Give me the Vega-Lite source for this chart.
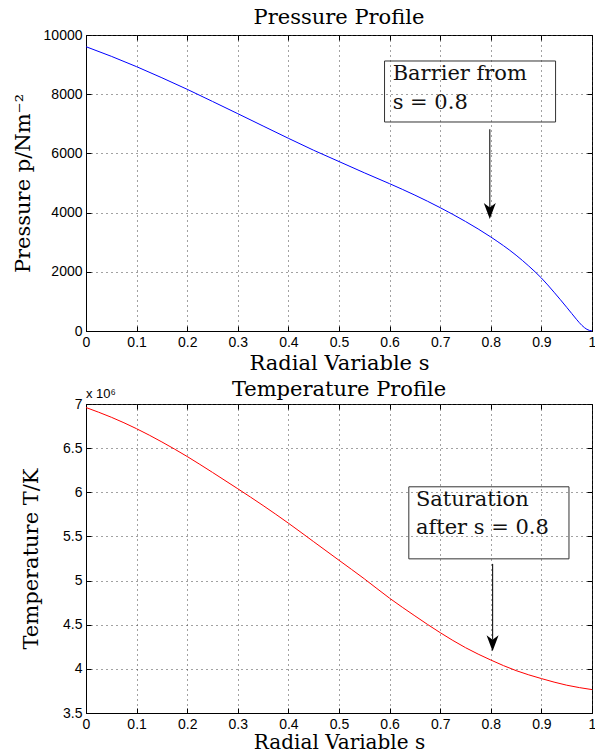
{
  "$schema": "https://vega.github.io/schema/vega-lite/v6.json",
  "padding": {"left": 11, "top": 6, "right": 0, "bottom": 0},
  "spacing": 73,
  "bounds": "flush",
  "config": {
    "view": {"stroke": "black", "strokeWidth": 1},
    "title": {"font": "DejaVu Serif", "fontSize": 21, "fontWeight": "normal", "color": "black"},
    "axis": {
      "labelFont": "Liberation Sans", "labelFontSize": 14, "labelColor": "black",
      "titleFont": "DejaVu Serif", "titleFontSize": 21, "titleFontWeight": "normal", "titleColor": "black",
      "domainColor": "black", "domainWidth": 1, "tickColor": "black", "tickSize": -5, "labelPadding": 9,
      "gridColor": "#444", "gridDash": [1, 4], "gridOpacity": 1, "gridWidth": 1, "labelFlush": false
    }
  },
  "datasets": {
    "pressure": [
      {"s": 0, "p": 9605}, {"s": 0.05, "p": 9280}, {"s": 0.1, "p": 8930}, {"s": 0.15, "p": 8555},
      {"s": 0.2, "p": 8165}, {"s": 0.25, "p": 7755}, {"s": 0.3, "p": 7342}, {"s": 0.35, "p": 6925},
      {"s": 0.4, "p": 6510}, {"s": 0.45, "p": 6105}, {"s": 0.5, "p": 5725}, {"s": 0.55, "p": 5345},
      {"s": 0.6, "p": 4977}, {"s": 0.65, "p": 4590}, {"s": 0.7, "p": 4166}, {"s": 0.75, "p": 3700},
      {"s": 0.8, "p": 3176}, {"s": 0.85, "p": 2560}, {"s": 0.875, "p": 2195}, {"s": 0.9, "p": 1790},
      {"s": 0.925, "p": 1310}, {"s": 0.95, "p": 800}, {"s": 0.96, "p": 590}, {"s": 0.97, "p": 380},
      {"s": 0.98, "p": 190}, {"s": 0.99, "p": 55}, {"s": 1.0, "p": 0}
    ],
    "temperature": [
      {"s": 0, "T": 6.96}, {"s": 0.05, "T": 6.85}, {"s": 0.1, "T": 6.72}, {"s": 0.15, "T": 6.57},
      {"s": 0.2, "T": 6.405}, {"s": 0.25, "T": 6.225}, {"s": 0.3, "T": 6.04}, {"s": 0.35, "T": 5.85},
      {"s": 0.4, "T": 5.65}, {"s": 0.45, "T": 5.44}, {"s": 0.5, "T": 5.23}, {"s": 0.55, "T": 5.02},
      {"s": 0.6, "T": 4.80}, {"s": 0.65, "T": 4.60}, {"s": 0.7, "T": 4.41}, {"s": 0.75, "T": 4.24},
      {"s": 0.8, "T": 4.10}, {"s": 0.85, "T": 3.98}, {"s": 0.9, "T": 3.89}, {"s": 0.95, "T": 3.815},
      {"s": 1.0, "T": 3.765}
    ]
  },
  "vconcat": [
    {
      "width": 506, "height": 296,
      "title": {"text": "Pressure Profile", "offset": 0},
      "layer": [
        {
          "data": {"name": "pressure"},
          "mark": {"type": "line", "color": "#0000ff", "strokeWidth": 1, "interpolate": "monotone"},
          "encoding": {
            "x": {"field": "s", "type": "quantitative", "scale": {"domain": [0, 1], "nice": false},
              "axis": {"values": [0, 0.1, 0.2, 0.3, 0.4, 0.5, 0.6, 0.7, 0.8, 0.9, 1], "format": "~g", "title": "Radial Variable s", "grid": true, "titlePadding": 3}},
            "y": {"field": "p", "type": "quantitative", "scale": {"domain": [0, 10000], "nice": false},
              "axis": {"values": [0, 2000, 4000, 6000, 8000, 10000], "format": "d", "title": "Pressure p/Nm⁻²", "grid": true, "titlePadding": 10}}
          }
        },
        {
          "data": {"name": "pressure"},
          "mark": {"type": "line", "opacity": 0},
          "encoding": {
            "x": {"field": "s", "type": "quantitative", "scale": {"domain": [0, 1], "nice": false},
              "axis": {"orient": "top", "values": [0, 0.1, 0.2, 0.3, 0.4, 0.5, 0.6, 0.7, 0.8, 0.9, 1], "labels": false, "title": null, "grid": false, "domain": false}},
            "y": {"field": "p", "type": "quantitative", "scale": {"domain": [0, 10000], "nice": false},
              "axis": {"orient": "right", "values": [0, 2000, 4000, 6000, 8000, 10000], "labels": false, "title": null, "grid": false, "domain": false}}
          }
        },
        {
          "data": {"values": [{"s0": 0.59, "s1": 0.928, "p0": 9122, "p1": 7061}]},
          "mark": {"type": "rect", "fill": null, "fillOpacity": 0, "stroke": "#333", "strokeWidth": 1},
          "encoding": {
            "x": {"field": "s0", "type": "quantitative", "scale": {"domain": [0, 1], "nice": false}, "axis": null},
            "x2": {"field": "s1"},
            "y": {"field": "p0", "type": "quantitative", "scale": {"domain": [0, 10000], "nice": false}, "axis": null},
            "y2": {"field": "p1"}
          }
        },
        {
          "data": {"values": [{"s": 0.606, "p": 8480, "t": "Barrier from"}, {"s": 0.606, "p": 7490, "t": "s = 0.8"}]},
          "mark": {"type": "text", "align": "left", "baseline": "alphabetic", "font": "DejaVu Serif", "fontSize": 21, "color": "#111"},
          "encoding": {
            "x": {"field": "s", "type": "quantitative", "scale": {"domain": [0, 1], "nice": false}, "axis": null},
            "y": {"field": "p", "type": "quantitative", "scale": {"domain": [0, 10000], "nice": false}, "axis": null},
            "text": {"field": "t"}
          }
        },
        {
          "data": {"values": [{"s": 0.798, "a": 6814, "b": 4100}]},
          "mark": {"type": "rule", "color": "#222", "strokeWidth": 1.2},
          "encoding": {
            "x": {"field": "s", "type": "quantitative", "scale": {"domain": [0, 1], "nice": false}, "axis": null},
            "y": {"field": "a", "type": "quantitative", "scale": {"domain": [0, 10000], "nice": false}, "axis": null},
            "y2": {"field": "b"}
          }
        },
        {
          "data": {"values": [{"s": 0.798, "p": 4054}]},
          "mark": {"type": "point", "shape": "M0,1L-0.75,-1L0,-0.45L0.75,-1Z", "filled": true, "color": "black", "opacity": 1, "size": 256},
          "encoding": {
            "x": {"field": "s", "type": "quantitative", "scale": {"domain": [0, 1], "nice": false}, "axis": null},
            "y": {"field": "p", "type": "quantitative", "scale": {"domain": [0, 10000], "nice": false}, "axis": null}
          }
        }
      ],
      "resolve": {"axis": {"x": "independent", "y": "independent"}}
    },
    {
      "width": 506, "height": 309,
      "title": {"text": "Temperature Profile", "offset": -12},
      "layer": [
        {
          "data": {"name": "temperature"},
          "mark": {"type": "line", "color": "#ff0000", "strokeWidth": 1, "interpolate": "monotone"},
          "encoding": {
            "x": {"field": "s", "type": "quantitative", "scale": {"domain": [0, 1], "nice": false},
              "axis": {"values": [0, 0.1, 0.2, 0.3, 0.4, 0.5, 0.6, 0.7, 0.8, 0.9, 1], "format": "~g", "title": "Radial Variable s", "grid": true, "titlePadding": 1, "titleFontSize": 20}},
            "y": {"field": "T", "type": "quantitative", "scale": {"domain": [3.5, 7], "nice": false},
              "axis": {"values": [3.5, 4, 4.5, 5, 5.5, 6, 6.5, 7], "format": "~g", "title": "Temperature T/K", "grid": true, "titlePadding": 21}}
          }
        },
        {
          "data": {"name": "temperature"},
          "mark": {"type": "line", "opacity": 0},
          "encoding": {
            "x": {"field": "s", "type": "quantitative", "scale": {"domain": [0, 1], "nice": false},
              "axis": {"orient": "top", "values": [0, 0.1, 0.2, 0.3, 0.4, 0.5, 0.6, 0.7, 0.8, 0.9, 1], "labels": false, "title": null, "grid": false, "domain": false}},
            "y": {"field": "T", "type": "quantitative", "scale": {"domain": [3.5, 7], "nice": false},
              "axis": {"orient": "right", "values": [3.5, 4, 4.5, 5, 5.5, 6, 6.5, 7], "labels": false, "title": null, "grid": false, "domain": false}}
          }
        },
        {
          "data": {"values": [{"s": 0, "T": 7, "t": "x 10⁶"}]},
          "mark": {"type": "text", "align": "left", "baseline": "alphabetic", "dy": -6, "font": "Liberation Sans", "fontSize": 13, "color": "black"},
          "encoding": {
            "x": {"field": "s", "type": "quantitative", "scale": {"domain": [0, 1], "nice": false}, "axis": null},
            "y": {"field": "T", "type": "quantitative", "scale": {"domain": [3.5, 7], "nice": false}, "axis": null},
            "text": {"field": "t"}
          }
        },
        {
          "data": {"values": [{"s0": 0.638, "s1": 0.9545, "T0": 6.062, "T1": 5.246}]},
          "mark": {"type": "rect", "fill": null, "fillOpacity": 0, "stroke": "#333", "strokeWidth": 1},
          "encoding": {
            "x": {"field": "s0", "type": "quantitative", "scale": {"domain": [0, 1], "nice": false}, "axis": null},
            "x2": {"field": "s1"},
            "y": {"field": "T0", "type": "quantitative", "scale": {"domain": [3.5, 7], "nice": false}, "axis": null},
            "y2": {"field": "T1"}
          }
        },
        {
          "data": {"values": [{"s": 0.652, "T": 5.84, "t": "Saturation"}, {"s": 0.652, "T": 5.525, "t": "after s = 0.8"}]},
          "mark": {"type": "text", "align": "left", "baseline": "alphabetic", "font": "DejaVu Serif", "fontSize": 21, "color": "#111"},
          "encoding": {
            "x": {"field": "s", "type": "quantitative", "scale": {"domain": [0, 1], "nice": false}, "axis": null},
            "y": {"field": "T", "type": "quantitative", "scale": {"domain": [3.5, 7], "nice": false}, "axis": null},
            "text": {"field": "t"}
          }
        },
        {
          "data": {"values": [{"s": 0.8035, "a": 5.189, "b": 4.33}]},
          "mark": {"type": "rule", "color": "#222", "strokeWidth": 1.2},
          "encoding": {
            "x": {"field": "s", "type": "quantitative", "scale": {"domain": [0, 1], "nice": false}, "axis": null},
            "y": {"field": "a", "type": "quantitative", "scale": {"domain": [3.5, 7], "nice": false}, "axis": null},
            "y2": {"field": "b"}
          }
        },
        {
          "data": {"values": [{"s": 0.8035, "T": 4.29}]},
          "mark": {"type": "point", "shape": "M0,1L-0.75,-1L0,-0.45L0.75,-1Z", "filled": true, "color": "black", "opacity": 1, "size": 256},
          "encoding": {
            "x": {"field": "s", "type": "quantitative", "scale": {"domain": [0, 1], "nice": false}, "axis": null},
            "y": {"field": "T", "type": "quantitative", "scale": {"domain": [3.5, 7], "nice": false}, "axis": null}
          }
        }
      ],
      "resolve": {"axis": {"x": "independent", "y": "independent"}}
    }
  ]
}
